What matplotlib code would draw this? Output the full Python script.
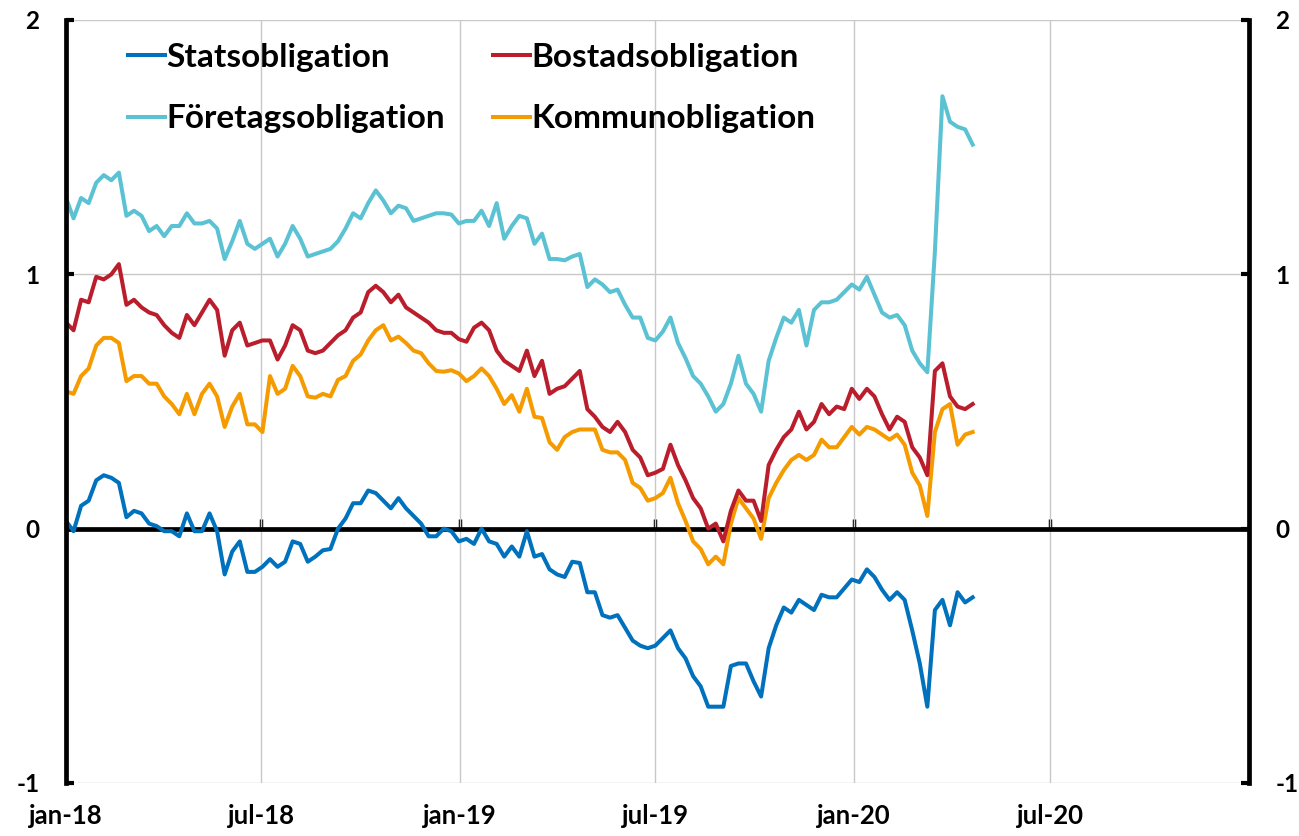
import numpy as np
import pandas as pd
import matplotlib
matplotlib.use("Agg")
import matplotlib.pyplot as plt
import matplotlib.dates as mdates

plt.rcParams['font.family'] = ['Lato', 'DejaVu Sans']
plt.rcParams['font.weight'] = 'bold'

# weekly observations, jan 2018 - apr 2020
dates = pd.date_range('2018-01-01', periods=121, freq='7D')

stats = [0.03, -0.01, 0.09, 0.11, 0.19, 0.21, 0.20, 0.18, 0.045, 0.07,
         0.06, 0.02, 0.01, -0.01, -0.01, -0.03, 0.06, -0.01, -0.01, 0.06,
         -0.01, -0.18, -0.09, -0.05, -0.17, -0.17, -0.15, -0.12, -0.15, -0.13,
         -0.05, -0.06, -0.13, -0.11, -0.085, -0.08, 0.00, 0.04, 0.10, 0.10,
         0.15, 0.14, 0.11, 0.08, 0.12, 0.08, 0.05, 0.02, -0.03, -0.03,
         0.00, -0.01, -0.05, -0.04, -0.06, 0.00, -0.05, -0.06, -0.11, -0.07,
         -0.11, -0.01, -0.11, -0.10, -0.16, -0.18, -0.19, -0.13, -0.135, -0.25,
         -0.25, -0.34, -0.35, -0.34, -0.39, -0.44, -0.46, -0.47, -0.46, -0.43,
         -0.40, -0.47, -0.51, -0.58, -0.62, -0.70, -0.70, -0.70, -0.54, -0.53,
         -0.53, -0.60, -0.66, -0.47, -0.38, -0.31, -0.33, -0.28, -0.30, -0.32,
         -0.26, -0.27, -0.27, -0.235, -0.20, -0.21, -0.16, -0.19, -0.24, -0.28,
         -0.25, -0.28, -0.40, -0.53, -0.70, -0.32, -0.28, -0.38, -0.25, -0.29,
         -0.27]

bostad = [0.81, 0.78, 0.90, 0.89, 0.99, 0.98, 1.00, 1.04, 0.88, 0.90,
          0.87, 0.85, 0.84, 0.80, 0.77, 0.75, 0.84, 0.80, 0.85, 0.90,
          0.86, 0.68, 0.78, 0.81, 0.72, 0.73, 0.74, 0.74, 0.665, 0.72,
          0.80, 0.78, 0.70, 0.69, 0.70, 0.73, 0.76, 0.78, 0.83, 0.85,
          0.93, 0.955, 0.93, 0.89, 0.92, 0.87, 0.85, 0.83, 0.81, 0.78,
          0.77, 0.77, 0.745, 0.735, 0.79, 0.81, 0.78, 0.70, 0.66, 0.64,
          0.62, 0.70, 0.60, 0.66, 0.53, 0.55, 0.56, 0.59, 0.62, 0.47,
          0.44, 0.40, 0.38, 0.42, 0.38, 0.31, 0.28, 0.21, 0.22, 0.235,
          0.33, 0.25, 0.19, 0.12, 0.08, 0.00, 0.02, -0.05, 0.07, 0.15,
          0.11, 0.11, 0.03, 0.25, 0.31, 0.36, 0.39, 0.46, 0.39, 0.42,
          0.49, 0.45, 0.48, 0.47, 0.55, 0.51, 0.55, 0.52, 0.45, 0.39,
          0.44, 0.42, 0.32, 0.28, 0.21, 0.62, 0.65, 0.52, 0.48, 0.47,
          0.49]

foretag = [1.30, 1.22, 1.30, 1.28, 1.36, 1.39, 1.37, 1.40, 1.23, 1.25,
           1.23, 1.17, 1.19, 1.15, 1.19, 1.19, 1.24, 1.20, 1.20, 1.21,
           1.18, 1.06, 1.13, 1.21, 1.12, 1.10, 1.12, 1.14, 1.07, 1.12,
           1.19, 1.14, 1.07, 1.08, 1.09, 1.10, 1.13, 1.18, 1.24, 1.22,
           1.28, 1.33, 1.29, 1.24, 1.27, 1.26, 1.21, 1.22, 1.23, 1.24,
           1.24, 1.235, 1.20, 1.21, 1.21, 1.25, 1.19, 1.28, 1.14, 1.19,
           1.23, 1.22, 1.12, 1.16, 1.06, 1.06, 1.055, 1.07, 1.08, 0.95,
           0.98, 0.96, 0.93, 0.94, 0.88, 0.83, 0.83, 0.75, 0.74, 0.775,
           0.83, 0.73, 0.67, 0.60, 0.57, 0.52, 0.46, 0.49, 0.57, 0.68,
           0.57, 0.53, 0.46, 0.66, 0.75, 0.83, 0.81, 0.86, 0.72, 0.86,
           0.89, 0.89, 0.90, 0.93, 0.96, 0.94, 0.99, 0.92, 0.85, 0.83,
           0.84, 0.80, 0.70, 0.65, 0.615, 1.09, 1.70, 1.60, 1.58, 1.57,
           1.51]

kommun = [0.54, 0.53, 0.60, 0.63, 0.72, 0.75, 0.75, 0.73, 0.58, 0.60,
          0.60, 0.57, 0.57, 0.52, 0.49, 0.45, 0.53, 0.45, 0.53, 0.57,
          0.52, 0.40, 0.48, 0.53, 0.41, 0.41, 0.38, 0.60, 0.53, 0.55,
          0.64, 0.60, 0.52, 0.515, 0.53, 0.52, 0.585, 0.60, 0.66, 0.685,
          0.74, 0.78, 0.80, 0.74, 0.755, 0.73, 0.70, 0.69, 0.65, 0.62,
          0.617, 0.623, 0.61, 0.58, 0.60, 0.63, 0.60, 0.55, 0.49, 0.525,
          0.46, 0.55, 0.44, 0.435, 0.34, 0.31, 0.36, 0.38, 0.39, 0.39,
          0.39, 0.31, 0.30, 0.30, 0.27, 0.18, 0.16, 0.11, 0.12, 0.14,
          0.20, 0.10, 0.03, -0.05, -0.08, -0.14, -0.11, -0.14, 0.02, 0.12,
          0.08, 0.04, -0.04, 0.12, 0.18, 0.23, 0.27, 0.29, 0.27, 0.29,
          0.35, 0.32, 0.32, 0.36, 0.40, 0.37, 0.40, 0.39, 0.37, 0.35,
          0.37, 0.33, 0.22, 0.17, 0.05, 0.38, 0.47, 0.49, 0.33, 0.37,
          0.38]

tick_dates = pd.to_datetime(['2018-01-01', '2018-07-01', '2019-01-01',
                             '2019-07-01', '2020-01-01', '2020-07-01'])
tick_labels = ['jan-18', 'jul-18', 'jan-19', 'jul-19', 'jan-20', 'jul-20']

x = mdates.date2num(dates)
xt = mdates.date2num(tick_dates)

fig = plt.figure(figsize=(12.99, 8.36), dpi=100)
ax = fig.add_axes([0.0508, 0.0634, 0.9107, 0.9127])

ax.axhline(0, color='black', lw=3.4, zorder=1.5)

lw = 2.9
l_stats, = ax.plot(x, stats, color='#0071BC', lw=lw, label='Statsobligation')
l_kommun, = ax.plot(x, kommun, color='#F59B00', lw=lw, label='Kommunobligation')
l_bostad, = ax.plot(x, bostad, color='#BA1E2D', lw=lw, label='Bostadsobligation')
l_foretag, = ax.plot(x, foretag, color='#5BC2D3', lw=lw, label='Företagsobligation')

ax.set_xlim(mdates.date2num(pd.Timestamp('2018-01-01')),
            mdates.date2num(pd.Timestamp('2021-01-01')))
ax.set_ylim(-1, 2)
ax.set_yticks([-1, 0, 1, 2])
ax.set_yticklabels(['-1', '0', '1', '2'])
ax.tick_params(axis='y', direction='in', length=6, width=3,
               left=True, right=True, labelleft=True, labelright=True,
               labelsize=17.5, pad=19)
ax.set_xticks(xt)
ax.set_xticklabels(tick_labels)
ax.tick_params(axis='x', length=0, pad=15, labelsize=18.5)

ax.grid(True, color='#C8C8C8', lw=1)
ax.set_axisbelow(True)

for side in ['top', 'bottom']:
    ax.spines[side].set_visible(False)
for side in ['left', 'right']:
    ax.spines[side].set_linewidth(3.4)
    ax.spines[side].set_color('black')

# small date ticks standing on the zero line
zero = ax.secondary_xaxis(1 / 3)
zero.set_xticks(xt)
zero.tick_params(axis='x', direction='in', length=7, width=2.5, labelbottom=False)
for s in zero.spines.values():
    s.set_visible(False)

ax.legend([l_stats, l_foretag, l_bostad, l_kommun],
          ['Statsobligation', 'Företagsobligation', 'Bostadsobligation', 'Kommunobligation'],
          ncol=2, loc='upper left', bbox_to_anchor=(0.0525, 0.970),
          frameon=False, fontsize=24, handlelength=1.1, handletextpad=0.05,
          columnspacing=1.45, labelspacing=0.97, borderaxespad=0, borderpad=0)

fig.savefig('out.png', dpi=100)
